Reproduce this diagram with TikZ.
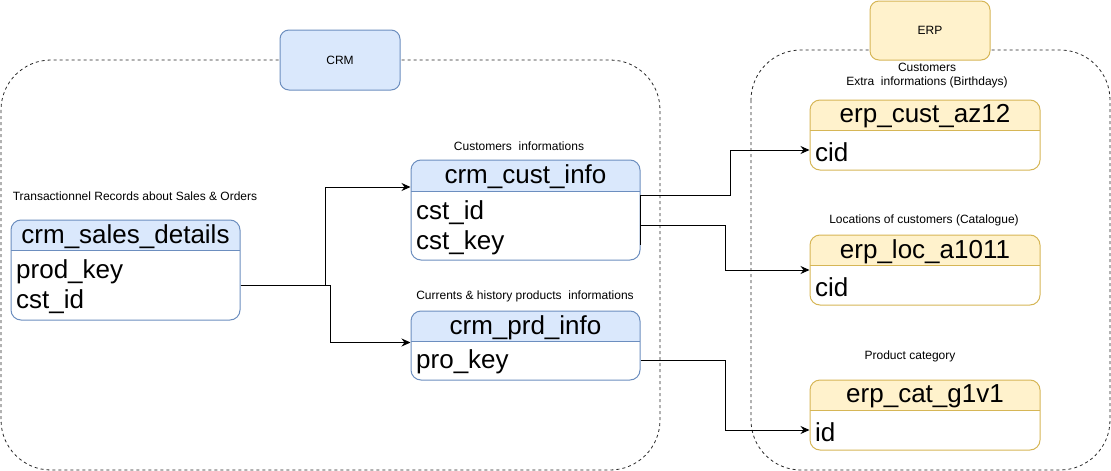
\documentclass[tikz,border=0pt]{standalone}
\usepackage{fontspec}
\setmainfont{Liberation Sans}
\usetikzlibrary{arrows.meta,fit}

\definecolor{crmfill}{HTML}{DAE8FC}
\definecolor{crmline}{HTML}{6C8EBF}
\definecolor{erpfill}{HTML}{FFF2CC}
\definecolor{erpline}{HTML}{D6B656}

\tikzset{
  tabletitle/.style={font=\fontsize{26}{30}\selectfont, inner sep=0pt},
  field/.style={font=\fontsize{26}{30}\selectfont, anchor=west, inner sep=0pt},
  note/.style={font=\fontsize{12}{14}\selectfont, align=center, inner sep=0pt},
  zone/.style={draw=black!85, line width=0.8pt, dash pattern=on 3pt off 3pt, rounded corners=50pt},
  zonetag/.style={line width=1pt, rounded corners=9pt, font=\fontsize{12}{14}\selectfont},
  link/.style={-{Stealth[length=9pt,width=8pt,inset=3pt]}, line width=1pt}
}

% name, fill, line, x1, y1, x2, y2, header bottom, title
\newcommand{\dbtable}[9]{%
  \begin{scope}
    \clip[rounded corners=10pt] (#4,#5) rectangle (#6,#7);
    \fill[white] (#4,#5) rectangle (#6,#7);
    \fill[#2] (#4,#5) rectangle (#6,#8);
  \end{scope}
  \draw[#3, line width=1pt] (#4,#8) -- (#6,#8);
  \coordinate (#1-nw) at (#4,#5);
  \coordinate (#1-se) at (#6,#7);
  \node[fit=(#1-nw)(#1-se), inner sep=0pt, draw=#3, line width=1pt, rounded corners=10pt] (#1) {};
  \node[tabletitle] (#1-title) at ({(#4+#6)/2},{(#5+#8)/2+1.5}) {#9};
}

\begin{document}
\begin{tikzpicture}[x=1pt,y=-1pt]
\useasboundingbox (0,0) rectangle (1111,471);

% containers
\draw[zone] (1,60) rectangle (660,470);
\draw[zone] (751,50) rectangle (1110,470);
\node[zonetag, draw=crmline, fill=crmfill, minimum width=120pt, minimum height=60pt] (crm) at (340,60) {CRM};
\node[zonetag, draw=erpline, fill=erpfill, minimum width=120pt, minimum height=59pt] (erp) at (930,30.5) {ERP};

% CRM tables
\dbtable{sales}{crmfill}{crmline}{11}{220}{240}{320}{250}{crm\_sales\_details}
\node[field] (sales-prod) at (16,272) {prod\_key};
\node[field] (sales-cst) at (16,302) {cst\_id};

\dbtable{cust}{crmfill}{crmline}{411}{160}{640}{260}{191}{crm\_cust\_info}
\node[field] (cust-id) at (416,213) {cst\_id};
\node[field] (cust-key) at (416,243) {cst\_key};

\dbtable{prd}{crmfill}{crmline}{411}{311}{640}{380}{341}{crm\_prd\_info}
\node[field] (prd-key) at (416,362) {pro\_key};

% ERP tables
\dbtable{az12}{erpfill}{erpline}{810}{100}{1040}{170}{130}{erp\_cust\_az12}
\node[field] (az12-cid) at (815,152) {cid};

\dbtable{loc}{erpfill}{erpline}{810}{235}{1040}{305}{265}{erp\_loc\_a1011}
\node[field] (loc-cid) at (815,287) {cid};

\dbtable{cat}{erpfill}{erpline}{810}{380}{1040}{450}{410}{erp\_cat\_g1v1}
\node[field] (cat-id) at (815,432) {id};

% notes
\node[note] (sales-note) at (135,196) {Transactionnel Records about Sales \& Orders};
\node[note] (cust-note) at (519,146) {Customers\ \ informations};
\node[note] (prd-note) at (525,296) {Currents \& history products\ \ informations};
\node[note] (az12-note) at (927,75.5) {Customers\\Extra\ \ informations (Birthdays)};
\node[note] (loc-note) at (924,220) {Locations of customers (Catalogue)};
\node[note] (cat-note) at (910,356) {Product category};

% links
\draw[link] ([yshift=-15pt]sales.east) -- ++(85,0) |- ([yshift=23pt]cust.west);
\draw[link] ([yshift=-15pt]sales.east) -- ++(90,0) |- ([yshift=3pt]prd.west);
\draw[line width=1pt] ([yshift=15pt]cust.east) -- ([yshift=-35pt]cust.east);
\draw[link] ([yshift=15pt]cust.east) -- ++(90,0) |- ([yshift=-15pt]az12.west);
\draw[link] ([yshift=-15pt]cust.east) -- ++(85,0) |- (loc.west);
\draw[link] ([yshift=-15pt]prd.east) -- ++(85,0) |- ([yshift=-15pt]cat.west);

\end{tikzpicture}
\end{document}
